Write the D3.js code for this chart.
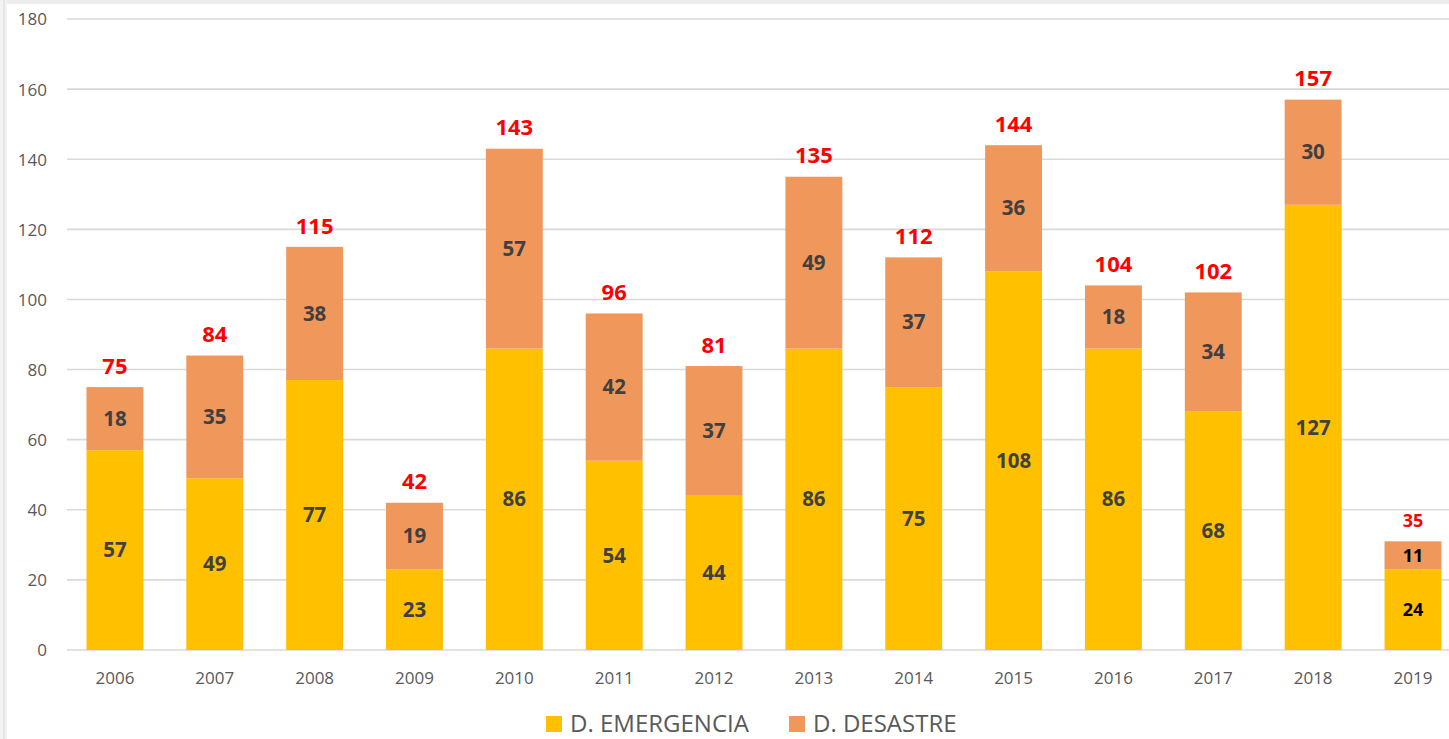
<!DOCTYPE html>
<html>
<head>
<meta charset="utf-8">
<script src="https://cdn.jsdelivr.net/npm/d3@7"></script>
<style>
html,body{margin:0;padding:0;background:#fff;overflow:hidden;}
svg{display:block;}
</style>
</head>
<body>
<svg id="chart" width="1449" height="739"></svg>
<script>
// ---- data ----
const years = ["2006","2007","2008","2009","2010","2011","2012","2013","2014","2015","2016","2017","2018","2019"];
// bar heights as drawn
const emergencia = [57,49,77,23,86,54,44,86,75,108,86,68,127,23];
const desastre   = [18,35,38,19,57,42,37,49,37,36,18,34,30,8];
// printed labels
const emergenciaLabels = ["57","49","77","23","86","54","44","86","75","108","86","68","127","24"];
const desastreLabels   = ["18","35","38","19","57","42","37","49","37","36","18","34","30","11"];
const totalLabels      = ["75","84","115","42","143","96","81","135","112","144","104","102","157","35"];
const yTicks = [0,20,40,60,80,100,120,140,160,180];
const seriesNames = ["D. EMERGENCIA","D. DESASTRE"];
const colors = ["#FFC000","#F0975B"];

const W = 1449, H = 739;
const svg = d3.select("#chart");
const font = "'Open Sans', 'Noto Sans', sans-serif";

// frame artefacts
svg.append("rect").attr("x",0).attr("y",0).attr("width",W).attr("height",4).attr("fill","#ededed");
svg.append("rect").attr("x",0).attr("y",0).attr("width",7).attr("height",H).attr("fill","#f3f3f3");
svg.append("rect").attr("x",3).attr("y",0).attr("width",2).attr("height",H).attr("fill","#e6e6e6");

const x = d3.scaleBand().domain(years).range([65, 65 + 14*99.85]).paddingInner(0.43).paddingOuter(0.215);
const y = d3.scaleLinear().domain([0,180]).range([650, 19]);

// gridlines
svg.append("g").selectAll("line").data(yTicks).join("line")
  .attr("x1",67).attr("x2",W).attr("y1",d=>y(d)).attr("y2",d=>y(d))
  .attr("stroke","#d9d9d9").attr("stroke-width",1.6);

// y axis labels
const yAxis = d3.axisLeft(y).tickValues(yTicks).tickSize(0).tickPadding(0);
const gy = svg.append("g").attr("transform","translate(47,0)").call(yAxis);
gy.select(".domain").remove();
gy.selectAll("text").attr("font-family",font).attr("font-size",17).attr("fill","#595959").attr("dy","0.35em");

// x axis labels
const xAxis = d3.axisBottom(x).tickSize(0).tickPadding(0);
const gx = svg.append("g").attr("transform","translate(0,678)").call(xAxis);
gx.select(".domain").remove();
gx.selectAll("text").attr("font-family",font).attr("font-size",17).attr("fill","#595959").attr("dy","0.35em");

// stacked bars
const rows = years.map((yr,i)=>({year:yr, e:emergencia[i], d:desastre[i]}));
const stack = d3.stack().keys(["e","d"])(rows);
svg.append("g").selectAll("g").data(stack).join("g")
  .attr("fill",(d,i)=>colors[i])
  .selectAll("rect").data(d=>d).join("rect")
  .attr("x",d=>x(d.data.year)).attr("width",x.bandwidth())
  .attr("y",d=>y(d[1])).attr("height",d=>y(d[0])-y(d[1]));

// segment labels
const labelSets = [emergenciaLabels, desastreLabels];
stack.forEach((layer,k)=>{
  svg.append("g").selectAll("text").data(layer).join("text")
    .attr("x",d=>x(d.data.year)+x.bandwidth()/2)
    .attr("y",d=>(y(d[0])+y(d[1]))/2)
    .attr("dy","0.35em").attr("text-anchor","middle")
    .attr("font-family",font).attr("font-weight","bold")
    .attr("font-size",(d,i)=> i===years.length-1 ? 18 : 20.5)
    .attr("fill",(d,i)=> i===years.length-1 ? "#000000" : "#404040")
    .text((d,i)=>labelSets[k][i]);
});

// total labels
const topLayer = stack[stack.length-1];
svg.append("g").selectAll("text").data(topLayer).join("text")
  .attr("x",d=>x(d.data.year)+x.bandwidth()/2)
  .attr("y",d=>y(d[1])-21)
  .attr("dy","0.35em").attr("text-anchor","middle")
  .attr("font-family",font).attr("font-weight","bold")
  .attr("font-size",(d,i)=> i===years.length-1 ? 18 : 22)
  .attr("fill","#FF0000")
  .text((d,i)=>totalLabels[i]);

// legend
const legendX = [546, 789];
const lg = svg.append("g");
seriesNames.forEach((name,i)=>{
  lg.append("rect").attr("x",legendX[i]).attr("y",716).attr("width",16).attr("height",16).attr("fill",colors[i]);
  lg.append("text").attr("x",legendX[i]+24).attr("y",732)
    .attr("font-family",font).attr("font-size",24).attr("fill","#595959").text(name);
});
</script>
</body>
</html>
